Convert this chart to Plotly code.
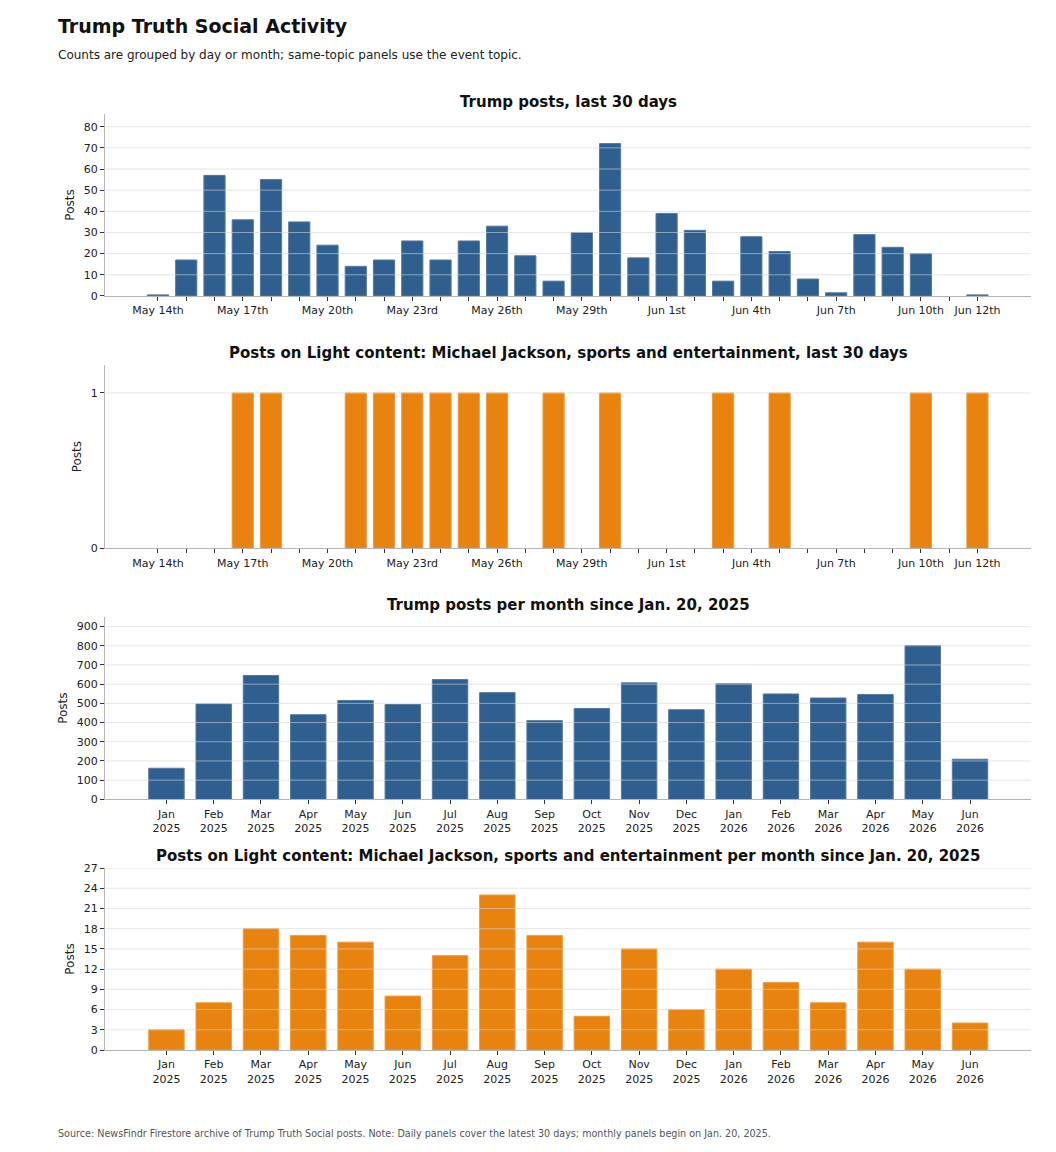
import pandas as pd
import plotly.graph_objects as go
from plotly.subplots import make_subplots

# daily panels (last 30 days)
days = pd.date_range("2026-05-14", "2026-06-12", freq="D")
day_labels = ["May 14th", "", "", "May 17th", "", "", "May 20th", "", "", "May 23rd",
              "", "", "May 26th", "", "", "May 29th", "", "", "Jun 1st", "", "",
              "Jun 4th", "", "", "Jun 7th", "", "", "Jun 10th", "", "Jun 12th"]
daily_posts = [0.5, 17, 57, 36, 55, 35, 24, 14, 17, 26, 17, 26, 33, 19, 7,
               30, 72, 18, 39, 31, 7, 28, 21, 8, 1.5, 29, 23, 20, 0, 0.5]
daily_light = [0, 0, 0, 1, 1, 0, 0, 1, 1, 1, 1, 1, 1, 0, 1,
               0, 1, 0, 0, 0, 1, 0, 1, 0, 0, 0, 0, 1, 0, 1]

# monthly panels (since Jan. 20, 2025)
months = ["Jan<br>2025", "Feb<br>2025", "Mar<br>2025", "Apr<br>2025", "May<br>2025",
          "Jun<br>2025", "Jul<br>2025", "Aug<br>2025", "Sep<br>2025", "Oct<br>2025",
          "Nov<br>2025", "Dec<br>2025", "Jan<br>2026", "Feb<br>2026", "Mar<br>2026",
          "Apr<br>2026", "May<br>2026", "Jun<br>2026"]
monthly_posts = [162, 497, 645, 441, 515, 494, 624, 556, 410, 473, 607, 467,
                 602, 549, 528, 546, 801, 209]
monthly_light = [3, 7, 18, 17, 16, 8, 14, 23, 17, 5, 15, 6, 12, 10, 7, 16, 12, 4]

titles = ["Trump posts, last 30 days",
          "Posts on Light content: Michael Jackson, sports and entertainment, last 30 days",
          "Trump posts per month since Jan. 20, 2025",
          "Posts on Light content: Michael Jackson, sports and entertainment per month since Jan. 20, 2025"]

BLUE = "#2e5f8f"
ORANGE = "#e8830f"
FONT = "DejaVu Sans"


def no_zero(vals):
    # empty days get no bar at all (no outline stub on the axis)
    return [v if v else None for v in vals]


fig = make_subplots(rows=4, cols=1)

fig.add_trace(go.Bar(x=days, y=no_zero(daily_posts), marker=dict(color=BLUE, line=dict(color="#5479a0", width=1))), row=1, col=1)
fig.add_trace(go.Bar(x=days, y=no_zero(daily_light), marker=dict(color=ORANGE, line=dict(color="#f09a40", width=1))), row=2, col=1)
fig.add_trace(go.Bar(x=months, y=monthly_posts, marker=dict(color=BLUE, line=dict(color="#5479a0", width=1))), row=3, col=1)
fig.add_trace(go.Bar(x=months, y=monthly_light, marker=dict(color=ORANGE, line=dict(color="#f09a40", width=1))), row=4, col=1)

domains = [[0.8056, 1.0], [0.536, 0.7318], [0.2678, 0.4626], [0.0, 0.1944]]
yranges = [[0, 86], [0, 1.18], [0, 950], [0, 27]]
ydticks = [10, 1, 100, 3]
day_range = ["2026-05-12 03:00", "2026-06-13 21:30"]

axis_common = dict(showline=True, linecolor="#b5b5b5", linewidth=1, ticks="outside",
                   ticklen=4, tickcolor="#333333", showgrid=False, zeroline=False,
                   tickfont=dict(family=FONT, size=11, color="#222222"))

for i in range(4):
    n = "" if i == 0 else str(i + 1)
    xa = dict(axis_common)
    if i < 2:
        xa.update(type="date", range=day_range, tickvals=days, ticktext=day_labels)
    else:
        xa.update(type="category", range=[-1.3, 18.29])
    fig.layout["xaxis" + n].update(xa)
    ya = dict(axis_common)
    ya.update(domain=domains[i], range=yranges[i], dtick=ydticks[i], tick0=0,
              title=dict(text="Posts", standoff=6,
                         font=dict(family=FONT, size=12, color="#222222")))
    fig.layout["yaxis" + n].update(ya)

    # gridlines drawn over the bars, as in the reference
    v = ydticks[i]
    while v <= yranges[i][1]:
        fig.add_shape(type="line", xref="x%s domain" % n, x0=0, x1=1,
                      yref="y" + n, y0=v, y1=v, layer="above",
                      line=dict(color="rgba(212,212,212,0.6)", width=1))
        v += ydticks[i]

    fig.add_annotation(text="<b>" + titles[i] + "</b>", xref="paper", yref="paper",
                       x=0.5, y=domains[i][1], xanchor="center", yanchor="bottom",
                       yshift=1, showarrow=False,
                       font=dict(family=FONT, size=15, color="#111111"))

fig.update_layout(bargap=0.25)

fig.add_annotation(text="<b>Trump Truth Social Activity</b>", xref="paper", yref="paper",
                   x=-0.0525, y=1.0945, xanchor="left", yanchor="middle", showarrow=False,
                   font=dict(family=FONT, size=19, color="#111111"))
fig.add_annotation(text="Counts are grouped by day or month; same-topic panels use the event topic.",
                   xref="paper", yref="paper", x=-0.0525, y=1.0630, xanchor="left",
                   yanchor="middle", showarrow=False,
                   font=dict(family=FONT, size=12, color="#222222"))
fig.add_annotation(text="Source: NewsFindr Firestore archive of Trump Truth Social posts. Note: Daily panels cover the latest 30 days; monthly panels begin on Jan. 20, 2025.",
                   xref="paper", yref="paper", x=-0.0525, y=-0.0887, xanchor="left",
                   yanchor="middle", showarrow=False,
                   font=dict(family=FONT, size=9.6, color="#555555"))

# the page adds an 8px body margin, so the margins are trimmed to keep the
# plot areas where the reference has them
fig.update_layout(width=1056, height=1152, showlegend=False,
                  margin=dict(l=97, r=33, t=106, b=110),
                  paper_bgcolor="white", plot_bgcolor="white",
                  font=dict(family=FONT))

fig.write_html("out.html")
